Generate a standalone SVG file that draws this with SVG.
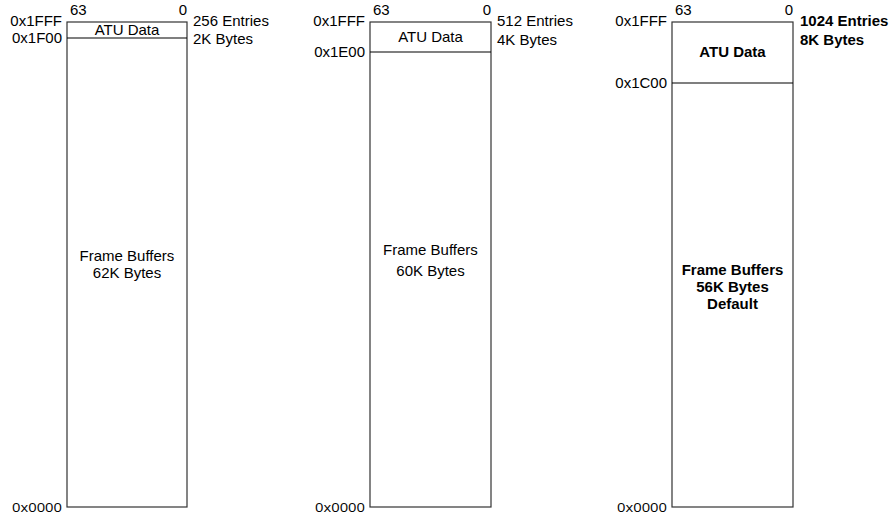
<svg xmlns="http://www.w3.org/2000/svg" width="894" height="517" viewBox="0 0 894 517">
<style>
text{font-family:"Liberation Sans",Arial,sans-serif;font-size:15px;fill:#000}
.b{font-weight:bold}
.m{text-anchor:middle}
.e{text-anchor:end}
.z{font-family:"Open Sans","DejaVu Sans",sans-serif;font-size:13.5px}
.box{fill:#fff;stroke:#333;stroke-width:1.2}
.div{stroke:#000;stroke-width:1.2}
</style>
<rect width="894" height="517" fill="#fff"/>
<g id="map256">
<rect class="box" x="67" y="22" width="120" height="485"/>
<line class="div" x1="67" y1="38" x2="187" y2="38"/>
<text x="70" y="15">63</text>
<text x="187" y="15" class="e">0</text>
<text x="127" y="35" class="m">ATU Data</text>
<text x="127" y="261" class="m">Frame Buffers</text>
<text x="127" y="278" class="m">62K Bytes</text>
<text x="193" y="26">256 Entries</text>
<text x="193" y="44">2K Bytes</text>
<text x="62" y="26" class="e">0x1FFF</text>
<text x="62" y="43" class="e">0x1F00</text>
<text x="62" y="512" class="e z" textLength="50" lengthAdjust="spacingAndGlyphs">0x0000</text>
</g>
<g id="map512">
<rect class="box" x="370" y="22" width="121" height="485"/>
<line class="div" x1="370" y1="52" x2="491" y2="52"/>
<text x="373" y="15">63</text>
<text x="491" y="15" class="e">0</text>
<text x="430.5" y="42" class="m">ATU Data</text>
<text x="430.5" y="255" class="m">Frame Buffers</text>
<text x="430.5" y="276" class="m">60K Bytes</text>
<text x="497" y="26">512 Entries</text>
<text x="497" y="45">4K Bytes</text>
<text x="365" y="26" class="e">0x1FFF</text>
<text x="365" y="57" class="e">0x1E00</text>
<text x="365" y="512" class="e z" textLength="50" lengthAdjust="spacingAndGlyphs">0x0000</text>
</g>
<g id="map1024">
<rect class="box" x="672" y="22" width="121" height="485"/>
<line class="div" x1="672" y1="83" x2="793" y2="83"/>
<text x="675" y="15">63</text>
<text x="793" y="15" class="e">0</text>
<text x="732.5" y="57" class="m b">ATU Data</text>
<text x="732.5" y="275" class="m b">Frame Buffers</text>
<text x="732.5" y="292" class="m b">56K Bytes</text>
<text x="732.5" y="309" class="m b">Default</text>
<text x="800" y="26" class="b">1024 Entries</text>
<text x="800" y="45" class="b">8K Bytes</text>
<text x="667" y="26" class="e">0x1FFF</text>
<text x="667" y="88" class="e">0x1C00</text>
<text x="667" y="512" class="e z" textLength="50" lengthAdjust="spacingAndGlyphs">0x0000</text>
</g>
<g id="connectors"></g>
</svg>
